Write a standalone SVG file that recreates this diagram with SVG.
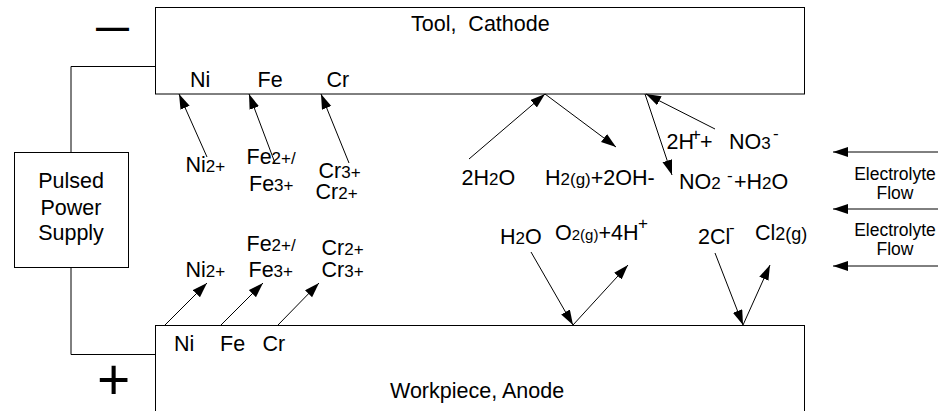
<svg xmlns="http://www.w3.org/2000/svg" width="938" height="411" viewBox="0 0 938 411">
<style>
.box{fill:#fff;stroke:#000;stroke-width:1}
.wire{fill:none;stroke:#000;stroke-width:1}
.arr{fill:none;stroke:#000;stroke-width:1;marker-end:url(#ah)}
text{font-family:"Liberation Sans",Arial,sans-serif;font-size:21.5px;fill:#000}
.s{font-size:17px}
.el{font-size:17.5px;text-anchor:middle}
.c{text-anchor:middle}
</style>
<defs>
<marker id="ah" markerUnits="userSpaceOnUse" markerWidth="16" markerHeight="12" refX="15" refY="5" orient="auto">
<path d="M0,0 L15,5 L0,10 Z" fill="#000"/>
</marker>
</defs>
<rect width="938" height="411" fill="#fff"/>
<g id="wires">
<polyline class="wire" points="71,152.5 71,66.5 155,66.5"/>
<polyline class="wire" points="71,267.5 71,354.5 155,354.5"/>
</g>
<g id="tool">
<rect class="box" x="155.5" y="7.5" width="649" height="86.5"/>
<text x="411" y="31" xml:space="preserve">Tool,  Cathode</text>
<text x="190" y="87">Ni</text>
<text x="257.5" y="87">Fe</text>
<text x="326.5" y="87">Cr</text>
</g>
<g id="workpiece">
<rect class="box" x="155.5" y="325.5" width="649" height="100"/>
<text x="390" y="398">Workpiece, Anode</text>
<text x="174" y="351">Ni</text>
<text x="220" y="351">Fe</text>
<text x="262.5" y="351">Cr</text>
</g>
<g id="power">
<rect class="box" x="14.5" y="152.5" width="114" height="115"/>
<text class="c" x="71" y="188">Pulsed</text>
<text class="c" x="71" y="214.5">Power</text>
<text class="c" x="71" y="240">Supply</text>
</g>
<g id="signs">
<text x="96" y="38" style="font-size:33px;font-weight:bold">—</text>
<text x="97" y="399" style="font-size:57px">+</text>
</g>
<g id="ions-cathode">
<text x="185.5" y="171.5">Ni<tspan class="s">2+</tspan></text>
<text x="246.5" y="163.5">Fe<tspan class="s">2+/</tspan></text>
<text x="249" y="190.5">Fe<tspan class="s">3+</tspan></text>
<text x="318.5" y="177.5">Cr<tspan class="s">3+</tspan></text>
<text x="315.5" y="199">Cr<tspan class="s">2+</tspan></text>
</g>
<g id="ions-anode">
<text x="246.5" y="250.5">Fe<tspan class="s">2+/</tspan></text>
<text x="185.5" y="277">Ni<tspan class="s">2+</tspan></text>
<text x="248.5" y="277">Fe<tspan class="s">3+</tspan></text>
<text x="321.5" y="255">Cr<tspan class="s">2+</tspan></text>
<text x="321.5" y="277">Cr<tspan class="s">3+</tspan></text>
</g>
<g id="cathode-reactions">
<text x="461.5" y="185">2H<tspan class="s">2</tspan>O</text>
<text x="545" y="185">H<tspan class="s">2(g)</tspan>+2OH-</text>
<text x="666.5" y="149">2H</text>
<text class="s" x="691" y="140">+</text>
<text x="700" y="149">+</text>
<text x="729" y="149">NO<tspan class="s">3</tspan></text>
<text class="s" x="773" y="139">-</text>
<text x="679" y="189">NO<tspan class="s">2</tspan></text>
<text class="s" x="727" y="181">-</text>
<text x="734" y="189">+H<tspan class="s">2</tspan>O</text>
</g>
<g id="anode-reactions">
<text x="500" y="244">H<tspan class="s">2</tspan>O</text>
<text x="555" y="240">O<tspan style="font-size:15px">2(g)</tspan>+4H</text>
<text class="s" x="638" y="229">+</text>
<text x="698" y="244">2Cl</text>
<text class="s" x="729" y="233">-</text>
<text x="755" y="240">Cl<tspan style="font-size:18px">2(g)</tspan></text>
</g>
<g id="flow">
<text class="el" x="895" y="180">Electrolyte</text>
<text class="el" x="895" y="199">Flow</text>
<text class="el" x="895" y="236">Electrolyte</text>
<text class="el" x="895" y="255">Flow</text>
</g>
<g id="connectors">
<line class="arr" x1="207" y1="157" x2="179" y2="94"/>
<line class="arr" x1="275" y1="163" x2="249" y2="94"/>
<line class="arr" x1="349" y1="163" x2="321" y2="94"/>
<line class="arr" x1="165" y1="325" x2="207" y2="283"/>
<line class="arr" x1="221" y1="325" x2="263" y2="283"/>
<line class="arr" x1="278" y1="325" x2="319" y2="283"/>
<line class="arr" x1="469" y1="159" x2="545" y2="94"/>
<line class="arr" x1="545" y1="94" x2="616" y2="147"/>
<line class="arr" x1="645" y1="94" x2="672" y2="175"/>
<line class="arr" x1="715" y1="129" x2="646" y2="94"/>
<line class="arr" x1="531" y1="252" x2="573" y2="325"/>
<line class="arr" x1="573" y1="325" x2="628" y2="265"/>
<line class="arr" x1="715" y1="253" x2="743" y2="325"/>
<line class="arr" x1="743" y1="325" x2="770" y2="265"/>
<line class="arr" x1="938" y1="152" x2="833" y2="152"/>
<line class="arr" x1="938" y1="209" x2="833" y2="209"/>
<line class="arr" x1="938" y1="266" x2="833" y2="266"/>
</g>
</svg>
